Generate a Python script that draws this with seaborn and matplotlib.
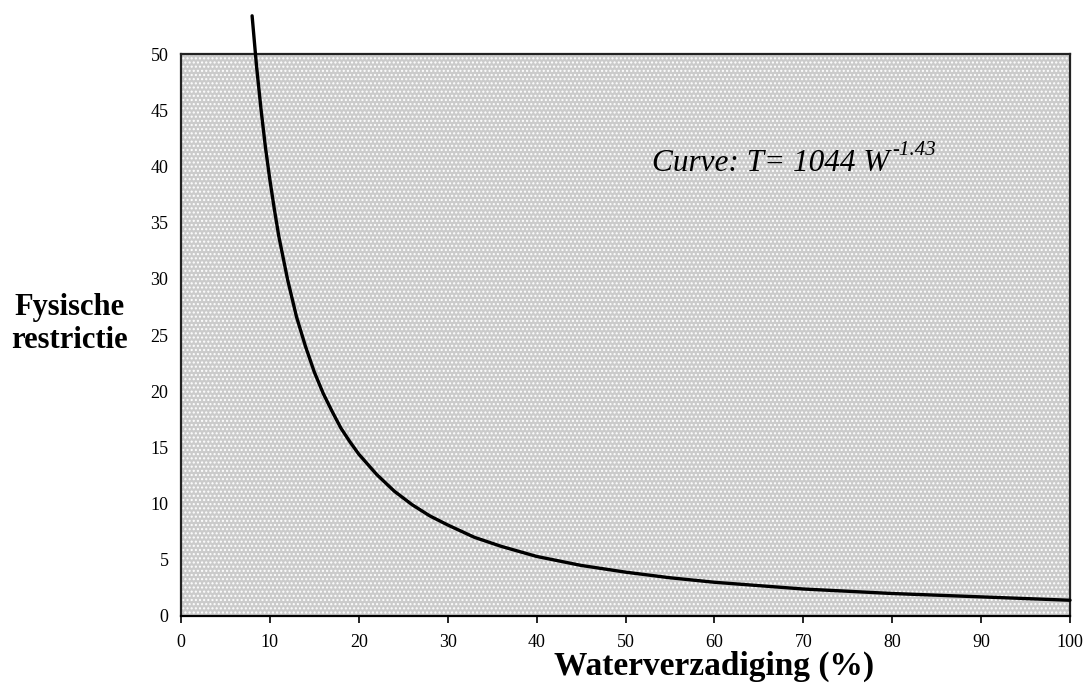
import matplotlib
matplotlib.use('Agg')
import matplotlib.pyplot as plt
from matplotlib.patches import Rectangle
import seaborn as sns

# waterverzadiging (%) vs fysische restrictie
water = [8, 8.5, 9, 9.5, 10, 10.5, 11, 12, 13, 14, 15, 16, 17, 18, 19, 20, 22, 24, 26, 28,
         30, 33, 36, 40, 45, 50, 55, 60, 70, 80, 90, 100]
restrictie = [53.4, 48.9, 45.1, 41.7, 38.8, 36.2, 33.8, 29.9, 26.6, 24.0, 21.7, 19.8, 18.2,
              16.7, 15.5, 14.4, 12.6, 11.1, 9.9, 8.9, 8.1, 7.0, 6.2, 5.3, 4.5, 3.9, 3.4,
              3.0, 2.4, 2.0, 1.7, 1.4]

x_ticks = [0, 10, 20, 30, 40, 50, 60, 70, 80, 90, 100]
y_ticks = [0, 5, 10, 15, 20, 25, 30, 35, 40, 45, 50]

sns.set_theme(style='white')
plt.rcParams['font.family'] = ['Liberation Serif', 'DejaVu Serif']
plt.rcParams['text.color'] = 'black'
plt.rcParams['axes.labelcolor'] = 'black'
plt.rcParams['xtick.color'] = 'black'
plt.rcParams['ytick.color'] = 'black'
plt.rcParams['hatch.color'] = '#5e5e5e'
plt.rcParams['hatch.linewidth'] = 1.0

fig = plt.figure(figsize=(10.85, 6.98), dpi=100)
ax = fig.add_axes([0.1668, 0.1175, 0.8194, 0.8051])
ax.set_facecolor('#cbcbcb')
# stippled background like the scanned original
ax.add_patch(Rectangle((0, 0), 1, 1, transform=ax.transAxes, facecolor='#cbcbcb',
                       hatch='....', linewidth=0, zorder=0))

sns.lineplot(x=water, y=restrictie, color='black', linewidth=2.4, ax=ax)
for l in ax.lines:
    l.set_clip_on(False)
    l.set_zorder(3)

ax.set_xlim(0, 100)
ax.set_ylim(0, 50)
ax.set_xticks(x_ticks)
ax.set_yticks(y_ticks)
ax.tick_params(axis='x', direction='out', length=5, width=1.2, color='black',
               labelsize=13, pad=8, bottom=True)
ax.tick_params(axis='y', length=0, labelsize=13, pad=9)

for side in ['left', 'top', 'right']:
    ax.spines[side].set_color('#222222')
    ax.spines[side].set_linewidth(1.6)
    ax.spines[side].set_linestyle((0, (1, 1)))
ax.spines['bottom'].set_color('black')
ax.spines['bottom'].set_linewidth(1.6)

ax.set_xlabel('Waterverzadiging (%)', fontsize=24, fontweight='bold', va='center')
ax.xaxis.set_label_coords(0.6, -0.09)
ax.set_ylabel('Fysische\nrestrictie', fontsize=22, fontweight='bold', rotation=0,
              ha='center', va='center', linespacing=1.2)
ax.yaxis.set_label_coords(-0.125, 0.52)

t = ax.text(53, 39.6, 'Curve: T= 1044 W', fontsize=22.5, fontstyle='italic',
            ha='left', va='baseline', zorder=4)
ax.annotate('-1.43', xy=(1, 1), xycoords=t, fontsize=15, fontstyle='italic',
            ha='left', va='top', xytext=(2, 6), textcoords='offset points', zorder=4)

fig.savefig('out.png', dpi=100)
